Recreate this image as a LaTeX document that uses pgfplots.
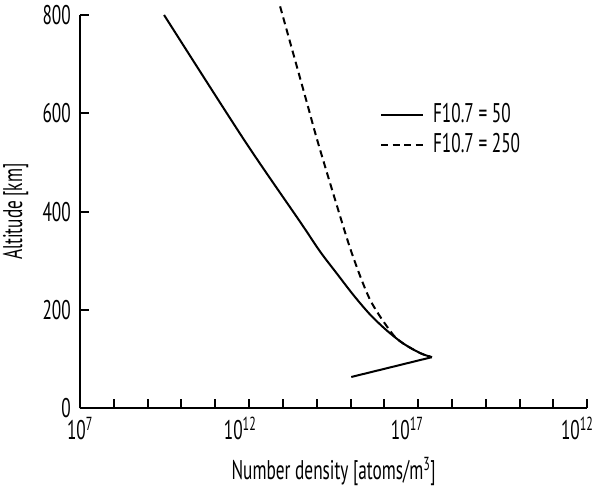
\documentclass[border=0pt]{standalone}
\usepackage{fontspec}
\setmainfont{PT Sans}[FakeStretch=0.64]
\usepackage{pgfplots}
\pgfplotsset{compat=1.18}

\begin{document}
\fontsize{27pt}{31pt}\selectfont
\begin{tikzpicture}
\begin{axis}[
  name=main,
  scale only axis, width=507.3pt, height=393.3pt,
  xmode=log, xmin=1e7, xmax=1e22, ymin=0, ymax=800,
  clip=false,
  axis lines*=left,
  axis line style={line width=2pt, -},
  every tick/.style={line width=2pt, black},
  tick align=inside,
  major tick length=9pt,
  xtick={1e7,1e8,1e9,1e10,1e11,1e12,1e13,1e14,1e15,1e16,1e17,1e18,1e19,1e20,1e21,1e22},
  xticklabels={10\textsuperscript{7},,,,,10\textsuperscript{12}\hspace*{18pt},,,,,10\textsuperscript{17}\hspace*{22pt},,,,,10\textsuperscript{12}\hspace*{20pt}},
  xminorticks=false,
  ytick={0,200,400,600,800},
  /pgf/number format/assume math mode=true,
  xlabel={Number density [atoms/m\textsuperscript{3}]},
  xlabel style={inner sep=0pt, yshift=-8pt},
  ylabel={Altitude [km]},
  ylabel shift=-4pt,
  legend cell align=left,
  legend style={draw=none, fill=none, at={(0.591,0.78)}, anchor=north west,
    inner sep=0pt, row sep=2pt},
  legend image code/.code={\draw[#1] (0pt,0pt) -- (42pt,0pt);},
]
% upper branch, F10.7 = 50
\addplot[black, line width=2pt, smooth] coordinates {
  (3.06e9,800) (7.11e11,546) (3.23e13,379.2) (1.26e14,318.7) (3.94e14,274)
  (1.22e15,230.2) (3.80e15,190.5) (1.19e16,158) (3.67e16,131.5) (1.15e17,112.2) (2.54e17,104)
};
\addlegendentry{\hspace*{7pt}F10.7 = 50}
% upper branch, F10.7 = 250
\addplot[black, line width=2pt, dash pattern=on 7pt off 4.5pt, smooth] coordinates {
  (8.26e12,817.5) (4.85e13,627.5) (1.03e14,546) (3.50e14,424) (1.09e15,315.5)
  (3.80e15,220.4) (1.67e16,152.7) (3.67e16,131.5) (1.15e17,112.2) (2.54e17,104)
};
\addlegendentry{\hspace*{7pt}F10.7 = 250}
% lower branch, shared by both
\addplot[black, line width=2pt, forget plot] coordinates {
  (2.54e17,104) (1.05e15,63.7)
};
\end{axis}
\pgfresetboundingbox
\path ([xshift=-80pt,yshift=-77.7pt]main.south west) rectangle ([xshift=6.7pt,yshift=15pt]main.north east);
\end{tikzpicture}
\end{document}
